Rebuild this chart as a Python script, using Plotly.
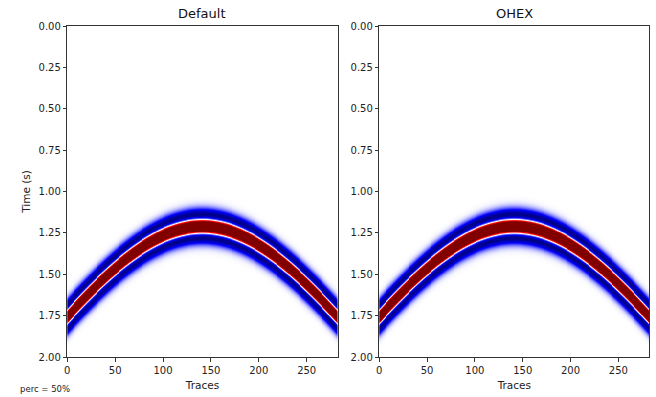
import numpy as np
import plotly.graph_objects as go

# ---- values ----
panel_titles = ["Default", "OHEX"]
n_traces = 283            # traces 0..282
dt = 0.002                # s
t_max = 2.0               # s
apex_trace = 141          # trace of hyperbola apex
apex_time = 1.212         # s, event time at apex
edge_time = 1.76          # s, event time at trace 0
peak_freq = 5.4           # Hz, Ricker wavelet
side_lobe = 0.8           # relative strength of the negative side lobes
clip_level = 0.42         # display clip (perc = 50%)
blur_sigma = 0.005        # s, display softening
y_ticks = [0.0, 0.25, 0.5, 0.75, 1.0, 1.25, 1.5, 1.75, 2.0]
x_ticks = [0, 50, 100, 150, 200, 250]
note_text = "perc = 50%"

# ---- build the synthetic section ----
traces = np.arange(n_traces)
times = np.arange(0, t_max + dt / 2, dt)
slow = np.sqrt(edge_time**2 - apex_time**2) / apex_trace
tt = np.sqrt(apex_time**2 + ((traces - apex_trace) * slow) ** 2)
tau = times[:, None] - tt[None, :]
a = (np.pi * peak_freq * tau) ** 2
section = (1 - 2 * a) * np.exp(-a)
section = np.where(section < 0, side_lobe * section, section)
k = np.arange(-4 * blur_sigma, 4 * blur_sigma + dt / 2, dt)
kern = np.exp(-0.5 * (k / blur_sigma) ** 2)
kern /= kern.sum()
section = np.apply_along_axis(lambda c: np.convolve(c, kern, mode="same"), 0, section)

seismic = [
    [0.0, "rgb(0,0,77)"],
    [0.25, "rgb(0,0,255)"],
    [0.5, "rgb(255,255,255)"],
    [0.75, "rgb(255,0,0)"],
    [1.0, "rgb(128,0,0)"],
]

W, H = 656, 397
fig = go.Figure()
domains = [[67.3 / W, 337.7 / W], [379.3 / W, 649.3 / W]]
ydom = [1 - 357 / H, 1 - 26 / H]
font = "DejaVu Sans, sans-serif"

for i, title in enumerate(panel_titles):
    xa = "x" if i == 0 else "x2"
    ya = "y" if i == 0 else "y2"
    fig.add_trace(go.Heatmap(
        x=traces, y=times, z=section, colorscale=seismic,
        zmin=-clip_level, zmax=clip_level, showscale=False,
        xaxis=xa, yaxis=ya, hoverinfo="skip",
    ))
    axis_common = dict(showline=True, mirror=True, linecolor="#333", linewidth=1,
                       ticks="outside", ticklen=3.5, tickcolor="#333",
                       showgrid=False, zeroline=False, automargin=False,
                       tickfont=dict(family=font, size=10, color="#222"))
    fig.update_layout(**{
        ("xaxis" if i == 0 else "xaxis2"): dict(
            domain=domains[i], range=[0, 282.4], anchor=ya,
            tickvals=x_ticks, **axis_common,
            title=dict(text="Traces", font=dict(family=font, size=10.5, color="#222"), standoff=7),
        ),
        ("yaxis" if i == 0 else "yaxis2"): dict(
            domain=ydom, range=[t_max, 0], anchor=xa,
            tickvals=y_ticks, tickformat=".2f", **axis_common,
            title=dict(text="Time (s)" if i == 0 else "",
                       font=dict(family=font, size=10.5, color="#222"), standoff=5),
        ),
    })
    fig.add_annotation(
        x=(domains[i][0] + domains[i][1]) / 2, y=1 - 13.5 / H, xref="paper", yref="paper",
        text=title, showarrow=False, xanchor="center", yanchor="middle",
        font=dict(family=font, size=13, color="#111"),
    )

fig.add_annotation(
    x=18 / W, y=1 - 389 / H, xref="paper", yref="paper", text=note_text,
    showarrow=False, xanchor="left", yanchor="middle",
    font=dict(family=font, size=8.5, color="#222"),
)

fig.update_layout(width=W, height=H, margin=dict(l=0, r=0, t=0, b=0),
                  paper_bgcolor="white", plot_bgcolor="white", showlegend=False)
fig.write_html("out.html", config={"displayModeBar": False},
               post_script="document.body.style.margin='0';")
